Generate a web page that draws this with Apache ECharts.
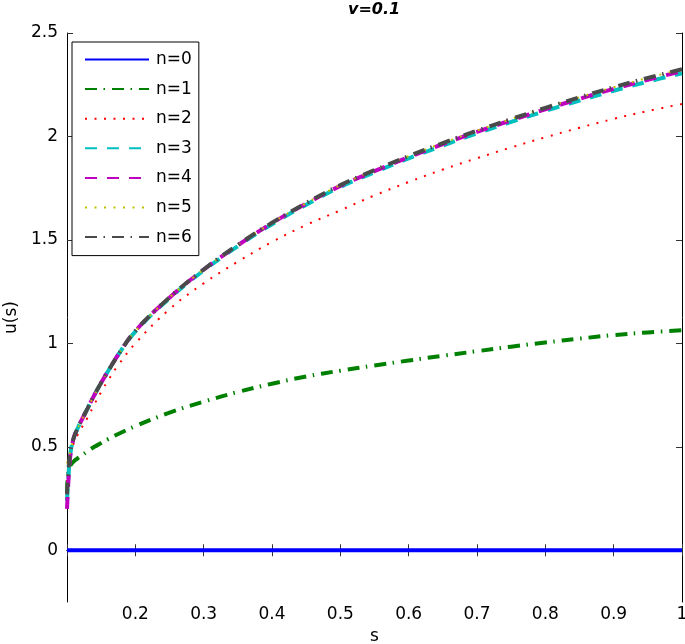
<!DOCTYPE html>
<html><head><meta charset="utf-8">
<script src="https://cdn.jsdelivr.net/npm/echarts@6/dist/echarts.min.js"></script>
<style>html,body{margin:0;padding:0;background:#fff}#c{width:685px;height:644px}</style>
</head><body><div id="c"></div>
<script>
// ---- data ----
const sValues = [0.1, 0.102, 0.105, 0.11, 0.115, 0.12, 0.13, 0.14, 0.15, 0.16, 0.175, 0.2, 0.25, 0.3, 0.35, 0.4, 0.45, 0.5, 0.55, 0.6, 0.65, 0.7, 0.75, 0.8, 0.85, 0.9, 0.95, 1.0];
const u0 = [0, 0, 0, 0, 0, 0, 0, 0, 0, 0, 0, 0, 0, 0, 0, 0, 0, 0, 0, 0, 0, 0, 0, 0, 0, 0, 0, 0];
const u1 = [0.28, 0.38, 0.41, 0.43, 0.443, 0.455, 0.478, 0.50, 0.518, 0.537, 0.562, 0.60, 0.665, 0.718, 0.765, 0.805, 0.84, 0.868, 0.893, 0.917, 0.94, 0.962, 0.984, 1.004, 1.023, 1.04, 1.053, 1.063];
const u2 = [0.33, 0.40, 0.46, 0.52, 0.555, 0.585, 0.64, 0.705, 0.765, 0.82, 0.895, 1.0, 1.165, 1.29, 1.395, 1.49, 1.572, 1.643, 1.715, 1.78, 1.84, 1.895, 1.947, 1.996, 2.042, 2.085, 2.123, 2.157];
const u3 = [0.24, 0.35, 0.47, 0.545, 0.585, 0.62, 0.685, 0.75, 0.81, 0.865, 0.945, 1.057, 1.218, 1.352, 1.47, 1.576, 1.67, 1.756, 1.827, 1.894, 1.956, 2.015, 2.07, 2.123, 2.173, 2.221, 2.265, 2.305];
const u4 = [0.2, 0.33, 0.46, 0.545, 0.585, 0.62, 0.685, 0.75, 0.81, 0.865, 0.945, 1.06, 1.221, 1.356, 1.474, 1.581, 1.675, 1.761, 1.832, 1.9, 1.963, 2.022, 2.078, 2.131, 2.182, 2.23, 2.274, 2.315];
const u5 = [0.42, 0.45, 0.48, 0.545, 0.585, 0.62, 0.685, 0.75, 0.81, 0.865, 0.945, 1.06, 1.222, 1.357, 1.476, 1.583, 1.678, 1.765, 1.837, 1.905, 1.968, 2.028, 2.084, 2.138, 2.189, 2.238, 2.283, 2.325];
const u6 = [0.27, 0.38, 0.48, 0.545, 0.585, 0.62, 0.685, 0.75, 0.81, 0.865, 0.945, 1.06, 1.222, 1.357, 1.476, 1.583, 1.678, 1.765, 1.837, 1.905, 1.968, 2.028, 2.084, 2.138, 2.189, 2.238, 2.283, 2.325];
const seriesNames = ['n=0', 'n=1', 'n=2', 'n=3', 'n=4', 'n=5', 'n=6'];
const yTickValues = [0, 0.5, 1, 1.5, 2, 2.5];

const FONT = 'DejaVu Sans';
const allU = [u0, u1, u2, u3, u4, u5, u6];
const styles = [
  {color: '#0000ff', width: 4, type: 'solid'},
  {color: '#008000', width: 4, type: [12, 6.5, 1.5, 7]},
  {color: '#ff0000', width: 2, type: [2, 7.5]},
  {color: '#00bfbf', width: 4, type: [12, 10]},
  {color: '#bf00bf', width: 4, type: [12, 10]},
  {color: '#bfbf00', width: 2, type: [2, 7.5]},
  {color: '#4a4a4a', width: 4, type: [12, 6.5, 1.5, 7]}
];
const pairs = arr => sValues.map((s, i) => [s, arr[i]]);

const series = seriesNames.map((name, k) => ({
  name: name,
  type: 'line',
  data: pairs(allU[k]),
  showSymbol: false,
  symbol: 'none',
  smooth: 0.4,
  color: styles[k].color,
  lineStyle: {color: styles[k].color, width: styles[k].width, type: styles[k].type},
  xAxisIndex: 0, yAxisIndex: 0,
  z: 2 + k,
  silent: true
}));

const axisLineStyle = {lineStyle: {color: '#000', width: 1}};
const tickStyle = {inside: true, length: 6, lineStyle: {color: '#333', width: 1}};

const chart = echarts.init(document.getElementById('c'), null, {renderer: 'canvas'});
chart.setOption({
  animation: false,
  backgroundColor: '#fff',
  title: {
    text: 'v=0.1', left: 348, top: 2, padding: 0,
    textStyle: {fontFamily: FONT, fontSize: 16, fontWeight: 'bold', fontStyle: 'italic', color: '#000'}
  },
  grid: {left: 67, top: 33, width: 615, height: 569, containLabel: false, outerBoundsMode: 'none'},
  legend: {
    orient: 'vertical', left: 72, top: 42,
    padding: [9, 7, 10, 12], itemGap: 12.6,
    itemWidth: 64, itemHeight: 17,
    borderColor: '#000', borderWidth: 1, backgroundColor: '#fff',
    selectedMode: false,
    itemStyle: {opacity: 0},
    textStyle: {fontFamily: FONT, fontSize: 17, lineHeight: 17, color: '#000', padding: [0, 0, 0, 2]},
    data: seriesNames
  },
  xAxis: [{
    type: 'value', min: 0.1, max: 1, interval: 0.1, position: 'bottom',
    name: 's', nameLocation: 'middle', nameGap: 16,
    nameTextStyle: {fontFamily: FONT, fontSize: 17, color: '#000'},
    axisLine: axisLineStyle, axisTick: tickStyle, splitLine: {show: false},
    axisLabel: {
      fontFamily: FONT, fontSize: 17, color: '#000', margin: 4,
      formatter: v => (Math.abs(v - 0.1) < 1e-9 ? '' : String(Math.round(v * 10) / 10))
    }
  }, {
    type: 'value', min: 0.1, max: 1, interval: 0.1, position: 'top',
    axisLine: axisLineStyle, axisTick: tickStyle, splitLine: {show: false},
    axisLabel: {show: false}
  }],
  yAxis: [{
    type: 'value', min: -0.25, max: 2.5, position: 'left',
    name: 'u(s)', nameLocation: 'middle', nameGap: 46,
    nameTextStyle: {fontFamily: FONT, fontSize: 17, color: '#000'},
    axisLine: axisLineStyle,
    axisTick: Object.assign({customValues: yTickValues}, tickStyle),
    splitLine: {show: false},
    axisLabel: {fontFamily: FONT, fontSize: 17, color: '#000', margin: 9, customValues: yTickValues}
  }, {
    type: 'value', min: -0.25, max: 2.5, position: 'right',
    axisLine: axisLineStyle,
    axisTick: Object.assign({customValues: yTickValues}, tickStyle),
    splitLine: {show: false},
    axisLabel: {show: false, customValues: yTickValues}
  }],
  series: series
});
</script>
</body></html>
